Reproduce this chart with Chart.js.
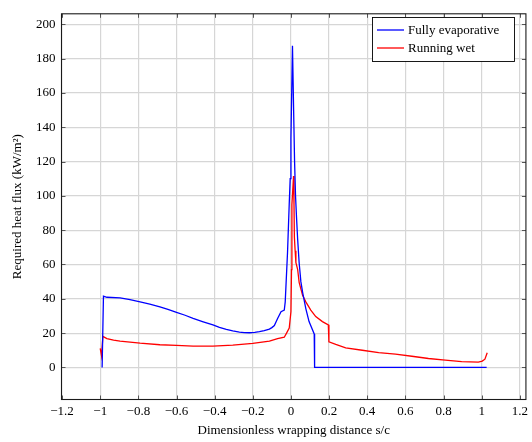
<!DOCTYPE html>
<html>
<head>
<meta charset="utf-8">
<script src="https://cdn.jsdelivr.net/npm/chart.js@4.4.1/dist/chart.umd.min.js"></script>
<style>
  html, body { margin: 0; padding: 0; background: #fff; }
  #wrap { width: 532px; height: 442px; }
</style>
</head>
<body>
<div id="wrap"><canvas id="flux" width="532" height="442"></canvas></div>
<script>
// Required heat flux along the wrapping distance, two icing regimes
const X_TICKS = [-1.2, -1, -0.8, -0.6, -0.4, -0.2, 0, 0.2, 0.4, 0.6, 0.8, 1, 1.2];
const Y_TICKS = [0, 20, 40, 60, 80, 100, 120, 140, 160, 180, 200];

const EVAP_S = [-0.99, -0.983, -0.965, -0.896, -0.844, -0.791, -0.74, -0.687, -0.645, -0.6,
  -0.555, -0.513, -0.46, -0.409, -0.375, -0.339, -0.305, -0.27, -0.245, -0.218, -0.19,
  -0.165, -0.14, -0.113, -0.1, -0.087, -0.07, -0.052, -0.035, -0.03, -0.018,
  -0.009, -0.004, 0.0, 0.008, 0.014, 0.019, 0.024, 0.029, 0.035, 0.043, 0.052, 0.061,
  0.078, 0.095, 0.122, 0.124, 0.4, 0.7, 1.026];
const EVAP_Q = [0, 41.6, 40.9, 40.5, 39.5, 38.2, 36.9, 35.3, 33.8, 32.1,
  30.4, 28.6, 26.6, 24.8, 23.4, 22.2, 21.3, 20.6, 20.3, 20.2, 20.4,
  20.8, 21.4, 22.3, 23.2, 24.4, 28.5, 32.5, 33.4, 38.2, 66.8,
  95.4, 110, 133.6, 187.4, 150, 120, 100, 88, 75, 61, 50, 43.9,
  34.3, 26.7, 19.5, 0, 0, 0, 0];

const WET_S = [-1.0, -0.993, -0.986, -0.965, -0.93, -0.896, -0.791, -0.687, -0.6, -0.513, -0.409,
  -0.305, -0.2, -0.113, -0.07, -0.035, -0.023, -0.009, 0.0, 0.003, 0.005, 0.0136, 0.016,
  0.018, 0.022, 0.026, 0.035, 0.043, 0.061, 0.078, 0.104, 0.13, 0.165, 0.196, 0.199,
  0.235, 0.287, 0.374, 0.46, 0.548, 0.634, 0.721, 0.809, 0.895, 0.982, 1.003, 1.017, 1.029];
const WET_Q = [11.1, 6.7, 18.1, 16.8, 15.9, 15.3, 14.1, 13.2, 12.8, 12.4, 12.4,
  13, 14, 15.3, 16.8, 17.6, 20, 22.9, 32.5, 57, 95, 111.6, 95,
  76, 68, 61, 57.2, 49.6, 42, 38.2, 33.4, 29.6, 26.7, 24.8, 14.9,
  13.4, 11.4, 10, 8.6, 7.7, 6.5, 5.2, 4.2, 3.4, 3.1, 3.7, 4.8, 8.6];

const SERIES_LABELS = ['Fully evaporative', 'Running wet'];
const SERIES_COLORS = ['#0000ff', '#ff0000'];

const FONT = 'Liberation Serif, Times New Roman, serif';

function pairs(xs, ys) {
  return xs.map((x, i) => ({ x: x, y: ys[i] }));
}

function fmt(v) {
  return String(v).replace('-', '\u2212');
}

// frame on all four sides, inward tick marks and the boxed legend
const axisBox = {
  id: 'axisBox',
  afterDatasetsDraw(chart) {
    const { ctx, chartArea: a, scales } = chart;
    const tl = 4;
    ctx.save();
    ctx.strokeStyle = '#555';
    ctx.lineWidth = 1;
    ctx.beginPath();
    X_TICKS.forEach(v => {
      const px = Math.round(scales.x.getPixelForValue(v)) + 0.5;
      ctx.moveTo(px, a.bottom); ctx.lineTo(px, a.bottom - tl);
      ctx.moveTo(px, a.top); ctx.lineTo(px, a.top + tl);
    });
    Y_TICKS.forEach(v => {
      const py = Math.round(scales.y.getPixelForValue(v)) + 0.5;
      ctx.moveTo(a.left, py); ctx.lineTo(a.left + tl, py);
      ctx.moveTo(a.right, py); ctx.lineTo(a.right - tl, py);
    });
    ctx.stroke();

    ctx.strokeStyle = '#1a1a1a';
    ctx.lineWidth = 1.1;
    ctx.strokeRect(a.left, a.top, a.right - a.left, a.bottom - a.top);

    // legend
    const bx = 372, by = 17, bw = 142, bh = 44;
    ctx.fillStyle = '#fff';
    ctx.fillRect(bx, by, bw, bh);
    ctx.strokeStyle = '#000';
    ctx.lineWidth = 0.9;
    ctx.strokeRect(bx + 0.5, by + 0.5, bw, bh);
    ctx.font = '13px ' + FONT;
    ctx.textBaseline = 'middle';
    ctx.textAlign = 'left';
    SERIES_LABELS.forEach((lab, i) => {
      const y = by + 13 + i * 18;
      ctx.strokeStyle = SERIES_COLORS[i];
      ctx.lineWidth = 1.3;
      ctx.beginPath();
      ctx.moveTo(377, y); ctx.lineTo(404, y);
      ctx.stroke();
      ctx.fillStyle = '#000';
      ctx.fillText(lab, 408, y + 0.5);
    });
    ctx.restore();
  }
};

new Chart(document.getElementById('flux'), {
  type: 'line',
  data: {
    datasets: [
      {
        label: SERIES_LABELS[0],
        data: pairs(EVAP_S, EVAP_Q),
        borderColor: SERIES_COLORS[0],
        borderWidth: 1.3,
        pointRadius: 0,
        tension: 0,
        fill: false
      },
      {
        label: SERIES_LABELS[1],
        data: pairs(WET_S, WET_Q),
        borderColor: SERIES_COLORS[1],
        borderWidth: 1.3,
        pointRadius: 0,
        tension: 0,
        fill: false
      }
    ]
  },
  options: {
    responsive: false,
    animation: false,
    layout: { padding: { top: 6, right: 4, left: 0, bottom: 0 } },
    plugins: {
      legend: { display: false },
      tooltip: { enabled: false }
    },
    scales: {
      x: {
        type: 'linear',
        min: -1.203,
        max: 1.232,
        afterBuildTicks: s => { s.ticks = X_TICKS.map(v => ({ value: v })); },
        afterFit: s => { s.height = 42.5; },
        grid: { color: '#d6d6d6', lineWidth: 1.2, drawTicks: false },
        border: { display: false },
        ticks: {
          color: '#000',
          padding: 4,
          maxRotation: 0,
          autoSkip: false,
          font: { family: FONT, size: 13 },
          callback: v => fmt(v)
        },
        title: {
          display: true,
          text: 'Dimensionless wrapping distance s/c',
          color: '#000',
          font: { family: FONT, size: 13 },
          padding: { top: 0, bottom: 4 }
        }
      },
      y: {
        type: 'linear',
        min: -18.7,
        max: 206.1,
        afterBuildTicks: s => { s.ticks = Y_TICKS.map(v => ({ value: v })); },
        afterFit: s => { s.width = 61.5; },
        grid: { color: '#d6d6d6', lineWidth: 1.2, drawTicks: false },
        border: { display: false },
        ticks: {
          color: '#000',
          padding: 6,
          autoSkip: false,
          font: { family: FONT, size: 13 },
          callback: v => fmt(v)
        },
        title: {
          display: true,
          text: 'Required heat flux (kW/m\u00b2)',
          color: '#000',
          font: { family: FONT, size: 13 },
          padding: { top: 10, bottom: 0 }
        }
      }
    }
  },
  plugins: [axisBox]
});
</script>
</body>
</html>
